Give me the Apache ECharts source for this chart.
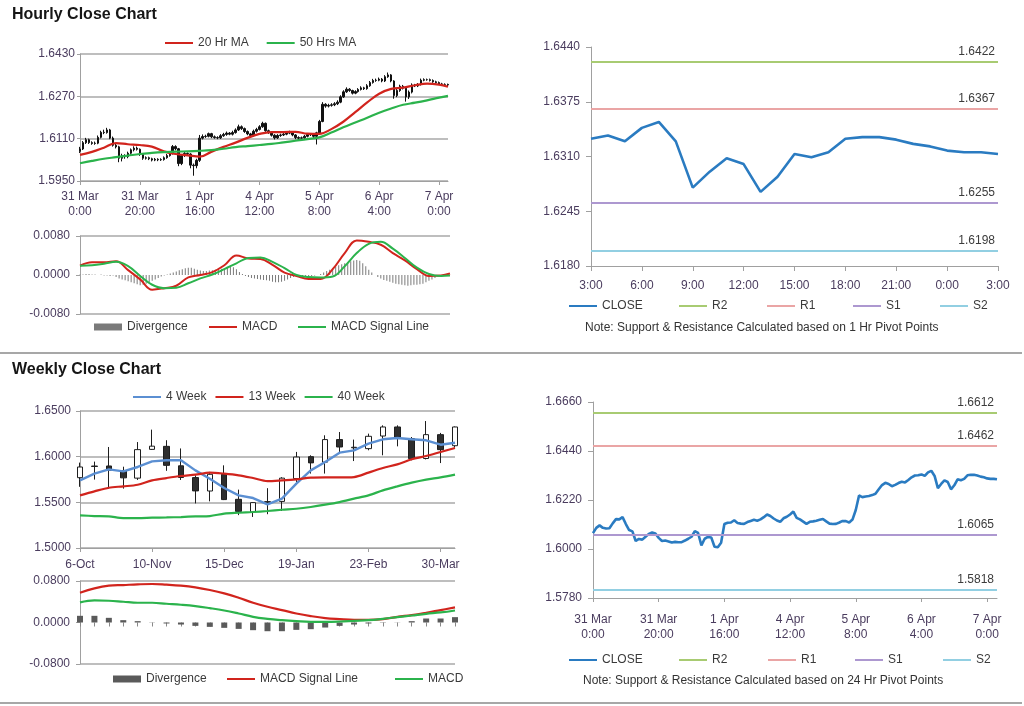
<!DOCTYPE html>
<html><head><meta charset="utf-8">
<script src="https://cdn.jsdelivr.net/npm/echarts@6/dist/echarts.min.js"></script>
<style>html,body{margin:0;padding:0;background:#fff}#c{width:1024px;height:706px}</style>
</head><body><div id="c"></div>
<script>
// ---------------- DATA ----------------
const hourlyTickLabels = ['31 Mar\n0:00','31 Mar\n20:00','1 Apr\n16:00','4 Apr\n12:00','5 Apr\n8:00','6 Apr\n4:00','7 Apr\n0:00'];
const hourlyClose = [
1.6071,1.6095,1.6106,1.6095,1.6092,1.6093,1.6115,1.6134,1.6133,1.6143,
1.6112,1.6085,1.6079,1.6036,1.6045,1.6042,1.6055,1.6068,1.6074,1.6070,
1.6050,1.6036,1.6038,1.6034,1.6029,1.6032,1.6030,1.6031,1.6038,1.6046,
1.6055,1.6080,1.6072,1.6016,1.6046,1.6054,1.6052,1.6010,1.6008,1.6028,
1.6112,1.6118,1.6119,1.6129,1.6117,1.6114,1.6113,1.6121,1.6126,1.6131,
1.6127,1.6133,1.6143,1.6155,1.6148,1.6137,1.6128,1.6122,1.6138,1.6145,
1.6155,1.6168,1.6140,1.6133,1.6123,1.6113,1.6122,1.6124,1.6127,1.6131,
1.6135,1.6124,1.6114,1.6112,1.6113,1.6119,1.6126,1.6125,1.6119,1.6132,
1.6175,1.6240,1.6233,1.6236,1.6238,1.6242,1.6248,1.6268,1.6287,1.6297,
1.6292,1.6282,1.6288,1.6296,1.6302,1.6299,1.6310,1.6322,1.6330,1.6331,
1.6335,1.6328,1.6344,1.6351,1.6328,1.6273,1.6292,1.6308,1.6301,1.6268,
1.6286,1.6313,1.6309,1.6315,1.6331,1.6333,1.6333,1.6330,1.6325,1.6322,
1.6317,1.6315,1.6315,1.6313];
const hourlyOpen = [
1.6062,1.6071,1.6095,1.6106,1.6095,1.6092,1.6093,1.6115,1.6134,1.6133,
1.6143,1.6112,1.6085,1.6079,1.6036,1.6045,1.6042,1.6055,1.6068,1.6074,
1.6070,1.6050,1.6036,1.6038,1.6034,1.6029,1.6032,1.6030,1.6031,1.6038,
1.6046,1.6055,1.6080,1.6072,1.6016,1.6046,1.6054,1.6052,1.6010,1.6008,
1.6028,1.6112,1.6118,1.6119,1.6129,1.6117,1.6114,1.6113,1.6121,1.6126,
1.6131,1.6127,1.6133,1.6143,1.6155,1.6148,1.6137,1.6128,1.6122,1.6138,
1.6145,1.6155,1.6168,1.6140,1.6133,1.6123,1.6113,1.6122,1.6124,1.6127,
1.6131,1.6135,1.6124,1.6114,1.6112,1.6113,1.6119,1.6126,1.6125,1.6119,
1.6132,1.6175,1.6240,1.6233,1.6236,1.6238,1.6242,1.6248,1.6268,1.6287,
1.6297,1.6292,1.6282,1.6288,1.6296,1.6302,1.6299,1.6310,1.6322,1.6330,
1.6331,1.6335,1.6328,1.6344,1.6351,1.6328,1.6273,1.6292,1.6308,1.6301,
1.6268,1.6286,1.6313,1.6309,1.6315,1.6331,1.6333,1.6333,1.6330,1.6325,
1.6322,1.6317,1.6315,1.6315];
const hourlyHigh = [
1.6079,1.6101,1.6113,1.6110,1.6100,1.6099,1.6122,1.6140,1.6144,1.6151,
1.6147,1.6118,1.6092,1.6083,1.6053,1.6051,1.6061,1.6073,1.6081,1.6080,
1.6073,1.6054,1.6043,1.6042,1.6038,1.6037,1.6036,1.6036,1.6043,1.6052,
1.6061,1.6086,1.6085,1.6075,1.6051,1.6060,1.6058,1.6055,1.6016,1.6034,
1.6124,1.6126,1.6125,1.6133,1.6132,1.6122,1.6119,1.6127,1.6132,1.6137,
1.6135,1.6140,1.6149,1.6163,1.6160,1.6152,1.6141,1.6132,1.6144,1.6151,
1.6161,1.6174,1.6171,1.6144,1.6137,1.6127,1.6127,1.6129,1.6132,1.6136,
1.6140,1.6138,1.6127,1.6119,1.6118,1.6124,1.6131,1.6130,1.6128,1.6136,
1.6181,1.6248,1.6244,1.6242,1.6244,1.6248,1.6255,1.6274,1.6293,1.6304,
1.6301,1.6295,1.6293,1.6301,1.6308,1.6306,1.6316,1.6328,1.6336,1.6337,
1.6341,1.6339,1.6350,1.6360,1.6354,1.6331,1.6298,1.6314,1.6313,1.6304,
1.6292,1.6319,1.6317,1.6320,1.6337,1.6338,1.6337,1.6337,1.6334,1.6329,
1.6326,1.6321,1.6319,1.6318];
const hourlyLow = [
1.6056,1.6067,1.6090,1.6090,1.6087,1.6087,1.6089,1.6111,1.6127,1.6129,
1.6108,1.6080,1.6073,1.6021,1.6024,1.6034,1.6036,1.6050,1.6062,1.6065,
1.6045,1.6030,1.6031,1.6029,1.6024,1.6025,1.6025,1.6026,1.6027,1.6034,
1.6042,1.6050,1.6066,1.6006,1.6010,1.6041,1.6047,1.5998,1.5970,1.5998,
1.6022,1.6107,1.6113,1.6115,1.6112,1.6110,1.6108,1.6109,1.6117,1.6121,
1.6123,1.6122,1.6129,1.6139,1.6143,1.6132,1.6123,1.6116,1.6118,1.6133,
1.6141,1.6151,1.6136,1.6128,1.6118,1.6107,1.6109,1.6117,1.6120,1.6123,
1.6127,1.6119,1.6108,1.6105,1.6107,1.6109,1.6115,1.6120,1.6113,1.6088,
1.6128,1.6172,1.6227,1.6228,1.6231,1.6233,1.6237,1.6244,1.6264,1.6283,
1.6287,1.6277,1.6278,1.6284,1.6292,1.6294,1.6295,1.6306,1.6318,1.6325,
1.6327,1.6323,1.6324,1.6340,1.6323,1.6261,1.6267,1.6287,1.6296,1.6250,
1.6260,1.6281,1.6305,1.6305,1.6311,1.6327,1.6329,1.6326,1.6321,1.6318,
1.6313,1.6311,1.6312,1.6309];
const maHours = [0,4,8,12,16,20,24,28,32,36,40,44,48,52,56,60,64,68,72,76,80,84,88,92,96,100,104,108,112,116,120,123];
const hourlyMa20 = [1.6049,1.6060,1.6076,1.6093,1.6089,1.6086,1.6080,1.6062,1.6052,1.6047,1.6042,1.6061,1.6079,1.6095,1.6113,1.6128,1.6135,1.6135,1.6136,1.6129,1.6128,1.6146,1.6174,1.6210,1.6247,1.6280,1.6298,1.6303,1.6312,1.6318,1.6314,1.6306];
const hourlyMa50 = [1.6017,1.6026,1.6034,1.6040,1.6046,1.6052,1.6056,1.6059,1.6061,1.6062,1.6064,1.6067,1.6072,1.6078,1.6082,1.6086,1.6090,1.6096,1.6102,1.6108,1.6115,1.6133,1.6153,1.6171,1.6189,1.6208,1.6224,1.6238,1.6246,1.6255,1.6265,1.6272];
const hourlyMacd = [0.0019,0.0026,0.0026,0.0028,0.0010,-0.0009,-0.0030,-0.0027,-0.0022,-0.0005,0.0000,0.0006,0.0020,0.0040,0.0034,0.0033,0.0021,0.0005,-0.0002,-0.0008,-0.0008,0.0012,0.0045,0.0071,0.0068,0.0062,0.0045,0.0030,0.0012,-0.0002,-0.0001,0.0003];
const hourlySignal = [0.0019,0.0020,0.0023,0.0027,0.0018,-0.0002,-0.0020,-0.0027,-0.0026,-0.0017,-0.0007,0.0001,0.0012,0.0024,0.0035,0.0036,0.0027,0.0014,0.0000,-0.0004,-0.0005,-0.0003,0.0018,0.0045,0.0064,0.0068,0.0054,0.0035,0.0015,0.0002,-0.0002,-0.0001];
const hourlyDivergence = [
0.0001,0.0001,0.0002,0.0002,0.0001,0.0001,0.0000,0.0001,-0.0001,-0.0001,-0.0002,-0.0001,
-0.0004,-0.0007,-0.0009,-0.0011,-0.0013,-0.0015,-0.0017,-0.0019,-0.0021,-0.0020,-0.0018,-0.0015,-0.0012,-0.0009,-0.0006,-0.0003,
-0.0001,0.0001,0.0003,0.0005,0.0007,
0.0010,0.0012,0.0014,0.0015,0.0015,0.0013,0.0011,0.0009,
0.0008,0.0008,0.0009,0.0010,0.0011,0.0012,0.0013,0.0014,
0.0016,0.0017,0.0016,0.0012,0.0006,
0.0002,-0.0002,-0.0004,-0.0006,-0.0007,-0.0008,-0.0009,-0.0010,-0.0011,-0.0012,-0.0014,-0.0015,-0.0015,-0.0014,-0.0012,-0.0009,-0.0006,-0.0004,
-0.0003,-0.0002,-0.0002,-0.0003,-0.0003,-0.0002,-0.0001,0.0000,0.0002,
0.0005,0.0008,0.0011,0.0014,0.0017,0.0020,0.0022,0.0024,0.0026,0.0028,0.0030,0.0031,0.0029,0.0024,0.0018,0.0011,0.0005,
0.0000,-0.0004,-0.0007,-0.0010,-0.0012,-0.0014,-0.0016,-0.0018,-0.0019,-0.0020,-0.0021,-0.0022,-0.0021,-0.0020,-0.0020,-0.0019,-0.0018,-0.0015,-0.0012,-0.0009,-0.0006,
-0.0003,-0.0001,0.0001,0.0001,0.0000];
const dayHours = ['3:00','4:00','5:00','6:00','7:00','8:00','9:00','10:00','11:00','12:00','13:00','14:00','15:00','16:00','17:00','18:00','19:00','20:00','21:00','22:00','23:00','0:00','1:00','2:00','3:00'];
const dayStartIndex = 99;
const pivotNames = ['R2','R1','S1','S2'];
const hourPivotLevels = [1.6422,1.6367,1.6255,1.6198];
const dayPivotLevels = [1.6612,1.6462,1.6065,1.5818];

const weekDates = ['6-Oct','13-Oct','20-Oct','27-Oct','3-Nov','10-Nov','17-Nov','24-Nov','1-Dec','8-Dec','15-Dec','22-Dec','29-Dec','5-Jan','12-Jan','19-Jan','26-Jan','2-Feb','9-Feb','16-Feb','23-Feb','2-Mar','9-Mar','16-Mar','23-Mar','30-Mar','6-Apr'];
const weeklyOpen  = [1.5770,1.5897,1.5898,1.5848,1.5765,1.6080,1.6113,1.5900,1.5771,1.5624,1.5807,1.5533,1.5395,1.5500,1.5510,1.5760,1.6000,1.5940,1.6187,1.6097,1.6088,1.6226,1.6325,1.6198,1.5980,1.6241,1.6120];
const weeklyClose = [1.5887,1.5893,1.5852,1.5768,1.6077,1.6115,1.5905,1.5772,1.5625,1.5807,1.5530,1.5401,1.5497,1.5508,1.5765,1.5996,1.5932,1.6187,1.6106,1.6103,1.6223,1.6325,1.6215,1.5979,1.6241,1.6077,1.6325];
const weeklyLow   = [1.5670,1.5749,1.5650,1.5650,1.5745,1.6075,1.5845,1.5745,1.5488,1.5511,1.5525,1.5360,1.5340,1.5370,1.5405,1.5722,1.5815,1.5815,1.6035,1.5952,1.6070,1.6015,1.6113,1.5960,1.5970,1.5930,1.6100];
const weeklyHigh  = [1.5935,1.5946,1.6106,1.5890,1.6160,1.6296,1.6180,1.6090,1.5796,1.5833,1.5905,1.5639,1.5500,1.5655,1.5775,1.6052,1.6015,1.6234,1.6270,1.6187,1.6252,1.6343,1.6343,1.6215,1.6390,1.6260,1.6330];
const week4  = [1.5741,1.5814,1.5861,1.5839,1.5887,1.5949,1.5960,1.5960,1.5850,1.5759,1.5657,1.5576,1.5547,1.5478,1.5540,1.5704,1.5850,1.5941,1.6044,1.6069,1.6142,1.6190,1.6204,1.6190,1.6179,1.6131,1.6153];
const week13 = [1.5576,1.5620,1.5660,1.5675,1.5693,1.5741,1.5766,1.5788,1.5803,1.5825,1.5814,1.5796,1.5766,1.5733,1.5741,1.5752,1.5770,1.5773,1.5773,1.5777,1.5825,1.5876,1.5916,1.5971,1.6007,1.6051,1.6095];
const week40 = [1.5357,1.5350,1.5346,1.5328,1.5328,1.5332,1.5335,1.5339,1.5346,1.5350,1.5376,1.5386,1.5394,1.5405,1.5419,1.5430,1.5449,1.5474,1.5503,1.5540,1.5576,1.5631,1.5675,1.5715,1.5748,1.5773,1.5803];
const weeklySignal = [0.0574,0.0658,0.0710,0.0722,0.0735,0.0742,0.0729,0.0710,0.0677,0.0626,0.0561,0.0477,0.0381,0.0303,0.0239,0.0174,0.0123,0.0084,0.0065,0.0052,0.0052,0.0065,0.0110,0.0142,0.0187,0.0239,0.0290];
const weeklyMacd = [0.0387,0.0426,0.0419,0.0400,0.0381,0.0381,0.0361,0.0342,0.0316,0.0277,0.0232,0.0174,0.0110,0.0071,0.0045,0.0026,0.0013,0.0013,0.0019,0.0032,0.0045,0.0071,0.0103,0.0135,0.0168,0.0194,0.0232];
const weeklyDivergence = [0.0129,0.0129,0.0090,0.0045,0.0026,0.0004,-0.0019,-0.0039,-0.0065,-0.0084,-0.0103,-0.0123,-0.0148,-0.0168,-0.0168,-0.0142,-0.0129,-0.0097,-0.0065,-0.0039,-0.0019,-0.0006,0.0003,0.0026,0.0077,0.0077,0.0103];

// ---------------- STYLE ----------------
const FONT = '"Liberation Sans", Arial, sans-serif';
const AX = '#a0a0a0';
const LBL = '#4a3c5e';
const GRIDC = '#a8a8a8';
const pivotColors = ['#a8cb72','#eaa5a5','#ad98d0','#92cfe2'];
const RED = '#d1241d', GREEN = '#2bb34c', BLUE = '#2a7bc1';

const hourIdx = hourlyClose.map((_, i) => String(i));
const weekIdx = weekDates.map((_, i) => String(i));
const dayIdx = dayHours.map((_, i) => String(i));

function catAxis(gridIndex, data, opts) {
  return Object.assign({
    type: 'category', gridIndex, data, boundaryGap: false,
    axisLine: { show: true, lineStyle: { color: AX, width: 1 } },
    axisTick: { show: true, length: 4, lineStyle: { color: AX } },
    axisLabel: { show: true, color: LBL, fontSize: 12, fontFamily: FONT, lineHeight: 15 },
    splitLine: { show: false }
  }, opts);
}
function valAxis(gridIndex, min, max, interval, opts) {
  return Object.assign({
    type: 'value', gridIndex, min, max, interval, scale: true,
    axisLine: { show: true, lineStyle: { color: AX, width: 1 } },
    axisTick: { show: true, length: 4, lineStyle: { color: AX } },
    axisLabel: { color: LBL, fontSize: 12, fontFamily: FONT, formatter: v => v.toFixed(4) },
    splitLine: { show: false }
  }, opts);
}
const hourLabelFmt = (v) => hourlyTickLabels[Math.round(Number(v) / 20)] || '';

const xAxis = [
  catAxis(0, hourIdx, { axisTick: { show: true, interval: 19, length: 4, lineStyle: { color: AX } },
    axisLabel: { interval: 19, formatter: hourLabelFmt, color: LBL, fontSize: 12, fontFamily: FONT, lineHeight: 15, margin: 8 } }),
  catAxis(1, hourIdx, { axisLine: { show: false }, axisTick: { show: false }, axisLabel: { show: false } }),
  catAxis(2, dayIdx, { axisTick: { show: true, interval: 2, length: 5, lineStyle: { color: AX } },
    axisLabel: { interval: 2, formatter: (v) => dayHours[Number(v)], color: LBL, fontSize: 12, fontFamily: FONT, margin: 14 } }),
  catAxis(3, weekIdx, { axisTick: { show: true, interval: 4, length: 4, lineStyle: { color: AX } },
    axisLabel: { interval: 4, formatter: (v) => weekDates[Number(v)], color: LBL, fontSize: 12, fontFamily: FONT, margin: 11 } }),
  catAxis(4, weekIdx, { axisLine: { show: false, onZero: true }, axisTick: { show: true, interval: 0, length: 4, lineStyle: { color: '#888' } }, axisLabel: { show: false } }),
  catAxis(5, hourIdx, { axisTick: { show: true, interval: 19, length: 4, lineStyle: { color: AX } },
    axisLabel: { interval: 19, formatter: hourLabelFmt, color: LBL, fontSize: 12, fontFamily: FONT, lineHeight: 15, margin: 14 } })
];
const yAxis = [
  valAxis(0, 1.5950, 1.6430, 0.0160, { axisTick: { show: true, length: 3, lineStyle: { color: AX } },
    axisLabel: { color: LBL, fontSize: 12, fontFamily: FONT, margin: 5, formatter: v => v.toFixed(4) },
    splitLine: { show: true, lineStyle: { color: GRIDC, width: 1.5 } } }),
  valAxis(1, -0.0080, 0.0080, 0.0080, { axisLabel: { color: LBL, fontSize: 12, fontFamily: FONT, margin: 10, formatter: v => v.toFixed(4) },
    splitLine: { show: true, lineStyle: { color: [GRIDC, 'rgba(0,0,0,0)', GRIDC], width: 1.5 } } }),
  valAxis(2, 1.6180, 1.6440, 0.0065, { axisTick: { show: true, length: 5, lineStyle: { color: AX } },
    axisLabel: { color: LBL, fontSize: 12, fontFamily: FONT, margin: 11, formatter: v => v.toFixed(4) } }),
  valAxis(3, 1.5000, 1.6500, 0.0500, { axisLabel: { color: LBL, fontSize: 12, fontFamily: FONT, margin: 9, formatter: v => v.toFixed(4) },
    splitLine: { show: true, lineStyle: { color: GRIDC, width: 1.5 } } }),
  valAxis(4, -0.0800, 0.0800, 0.0800, { axisLabel: { color: LBL, fontSize: 12, fontFamily: FONT, margin: 10, formatter: v => v.toFixed(4) },
    splitLine: { show: true, lineStyle: { color: [GRIDC, 'rgba(0,0,0,0)', GRIDC], width: 1.5 } } }),
  valAxis(5, 1.5780, 1.6660, 0.0220, { axisTick: { show: true, length: 5, lineStyle: { color: AX } },
    axisLabel: { color: LBL, fontSize: 12, fontFamily: FONT, margin: 11, formatter: v => v.toFixed(4) } })
];

function lineSeries(name, xi, data, color, width, extra) {
  return Object.assign({ type: 'line', name, xAxisIndex: xi, yAxisIndex: xi, data, symbol: 'none', showSymbol: false,
    lineStyle: { color, width }, itemStyle: { color }, z: 3 }, extra || {});
}
function pivotSeries(k, xi, levels) {
  return { type: 'line', name: pivotNames[k], xAxisIndex: xi, yAxisIndex: xi, data: [], symbol: 'none',
    lineStyle: { color: pivotColors[k], width: 2 }, itemStyle: { color: pivotColors[k] },
    markLine: { silent: true, symbol: ['none', 'none'], animation: false, precision: 4,
      lineStyle: { color: pivotColors[k], width: 2, type: 'solid' },
      label: { show: true, position: 'insideEndTop', distance: [3, 4], formatter: levels[k].toFixed(4), color: '#3c3c3c', fontSize: 12, fontFamily: FONT },
      data: [{ yAxis: levels[k] }] } };
}
const pairs = (xs, ys) => xs.map((x, i) => [x, ys[i]]);

const series = [
  { type: 'candlestick', name: 'Hourly', xAxisIndex: 0, yAxisIndex: 0, barWidth: 2,
    data: hourlyOpen.map((o, i) => [o, hourlyClose[i], hourlyLow[i], hourlyHigh[i]]),
    itemStyle: { color: '#111', color0: '#111', borderColor: '#111', borderColor0: '#111', borderWidth: 1 } },
  lineSeries('20 Hr MA', 0, pairs(maHours, hourlyMa20), RED, 2.2, { smooth: 0.4 }),
  lineSeries('50 Hrs MA', 0, pairs(maHours, hourlyMa50), GREEN, 2.2, { smooth: 0.4 }),
  { type: 'bar', name: 'Divergence', xAxisIndex: 1, yAxisIndex: 1, data: hourlyDivergence, barWidth: 1, itemStyle: { color: '#7a7a7a' } },
  lineSeries('MACD', 1, pairs(maHours, hourlyMacd), RED, 2, { smooth: 0.4 }),
  lineSeries('MACD Signal Line', 1, pairs(maHours, hourlySignal), GREEN, 2, { smooth: 0.4 }),
  lineSeries('CLOSE', 2, hourlyClose.slice(dayStartIndex), BLUE, 2.6),
  pivotSeries(0, 2, hourPivotLevels), pivotSeries(1, 2, hourPivotLevels), pivotSeries(2, 2, hourPivotLevels), pivotSeries(3, 2, hourPivotLevels),
  { type: 'candlestick', name: 'Weekly', xAxisIndex: 3, yAxisIndex: 3, barWidth: 6, clip: false,
    data: weeklyOpen.map((o, i) => [o, weeklyClose[i], weeklyLow[i], weeklyHigh[i]]),
    itemStyle: { color: '#ffffff', color0: '#2e2e2e', borderColor: '#1e1e1e', borderColor0: '#1e1e1e', borderWidth: 1 } },
  lineSeries('4 Week', 3, week4, '#5b8fd2', 2.4),
  lineSeries('13 Week', 3, week13, RED, 2.2, { smooth: 0.3 }),
  lineSeries('40 Week', 3, week40, GREEN, 2.2, { smooth: 0.3 }),
  { type: 'bar', name: 'Divergence ', xAxisIndex: 4, yAxisIndex: 4, data: weeklyDivergence, barWidth: 6, itemStyle: { color: '#5a5a5a' } },
  lineSeries('MACD Signal Line ', 4, weeklySignal, RED, 2.2, { smooth: 0.4 }),
  lineSeries('MACD ', 4, weeklyMacd, GREEN, 2.2, { smooth: 0.4 }),
  lineSeries('CLOSE', 5, hourlyClose, BLUE, 2.6),
  pivotSeries(0, 5, dayPivotLevels), pivotSeries(1, 5, dayPivotLevels), pivotSeries(2, 5, dayPivotLevels), pivotSeries(3, 5, dayPivotLevels)
];

const legTxt = { color: '#3a3a3a', fontSize: 12, fontFamily: FONT };
function leg(data, left, top, gap, iconH) {
  return { data, left, top, itemGap: gap || 10, itemWidth: 28, itemHeight: iconH || 2, icon: 'rect', padding: 0,
    textStyle: legTxt, formatter: n => n.trim(), selectedMode: false };
}
const legend = [
  leg(['20 Hr MA', '50 Hrs MA'], 165, 37, 18),
  leg(['Divergence'], 94, 321, 10, 7),
  leg(['MACD'], 209, 321),
  leg(['MACD Signal Line'], 298, 321),
  leg(['CLOSE'], 569, 300), leg(['R2'], 679, 300), leg(['R1'], 767, 300), leg(['S1'], 853, 300), leg(['S2'], 940, 300),
  leg(['4 Week', '13 Week', '40 Week'], 133, 391, 9),
  leg(['Divergence '], 113, 673, 10, 7),
  leg(['MACD Signal Line '], 227, 673),
  leg(['MACD '], 395, 673),
  leg(['CLOSE'], 569, 654), leg(['R2'], 679, 654), leg(['R1'], 768, 654), leg(['S1'], 855, 654), leg(['S2'], 943, 654)
];

const ttl = (text, left, top, size, bold) => ({ text, left, top, padding: 0,
  textStyle: { fontSize: size, fontWeight: bold ? 'bold' : 'normal', color: bold ? '#161616' : '#333', fontFamily: FONT } });

const option = {
  animation: false,
  backgroundColor: '#ffffff',
  title: [
    ttl('Hourly Close Chart', 12, 7, 16, true),
    ttl('Weekly Close Chart', 12, 362, 16, true),
    ttl('Note: Support & Resistance Calculated based on 1 Hr Pivot Points', 585, 322, 12, false),
    ttl('Note: Support & Resistance Calculated based on 24 Hr Pivot Points', 583, 675, 12, false)
  ],
  grid: [
    { left: 80, top: 54, width: 368, height: 127, containLabel: false, outerBoundsMode: 'none' },
    { left: 80, top: 236, width: 370, height: 78, containLabel: false, outerBoundsMode: 'none' },
    { left: 591, top: 47, width: 407, height: 219, containLabel: false, outerBoundsMode: 'none' },
    { left: 80, top: 411, width: 375, height: 137, containLabel: false, outerBoundsMode: 'none' },
    { left: 80, top: 581, width: 375, height: 83, containLabel: false, outerBoundsMode: 'none' },
    { left: 593, top: 402, width: 404, height: 196, containLabel: false, outerBoundsMode: 'none' }
  ],
  xAxis, yAxis, legend, series,
  graphic: [
    { type: 'line', silent: true, shape: { x1: 0, y1: 353, x2: 1022, y2: 353 }, style: { stroke: '#8a8a8a', lineWidth: 1.5 } },
    { type: 'line', silent: true, shape: { x1: 0, y1: 703, x2: 1022, y2: 703 }, style: { stroke: '#8a8a8a', lineWidth: 1.5 } }
  ]
};
const chart = echarts.init(document.getElementById('c'), null, { renderer: 'canvas', width: 1024, height: 706 });
chart.setOption(option);
</script></body></html>
